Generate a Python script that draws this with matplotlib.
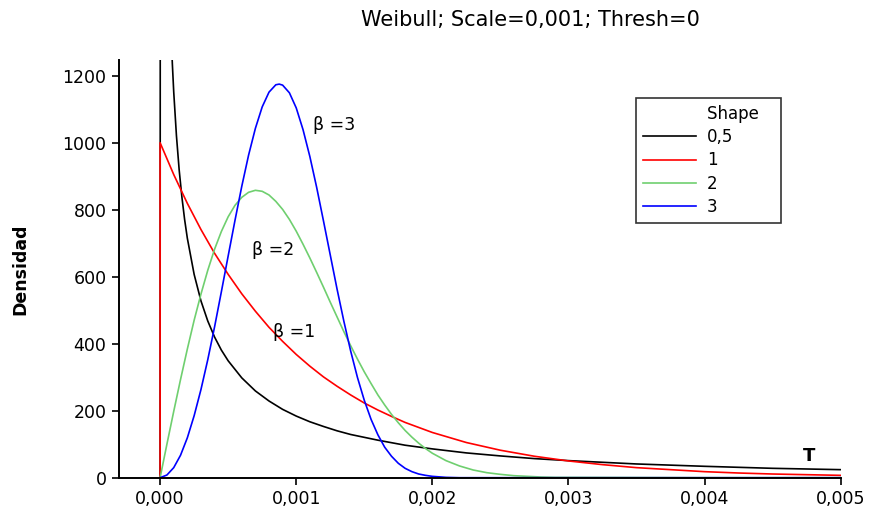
import matplotlib
matplotlib.use("Agg")
import matplotlib.pyplot as plt
from matplotlib.lines import Line2D
import numpy as np

# Weibull densities, scale 0.001, threshold 0
# times are given in thousandths (x 0.001)
shapes = ["0,5", "1", "2", "3"]
colors = ["black", "red", "#6fcf6f", "blue"]

t_05 = [0, 0.005, 0.01, 0.015, 0.02, 0.03, 0.04, 0.05, 0.06, 0.07, 0.08, 0.09,
        0.1, 0.12, 0.14, 0.16, 0.18, 0.2, 0.25, 0.3, 0.35, 0.4, 0.45, 0.5,
        0.6, 0.7, 0.8, 0.9, 1.0, 1.1, 1.2, 1.3, 1.4, 1.6, 1.8, 2.0, 2.25,
        2.5, 2.75, 3.0, 3.5, 4.0, 4.5, 5.0]
d_05 = [0, 6588, 4524, 3611, 3070, 2428, 2047, 1788, 1598, 1450, 1332, 1235,
        1152, 1021, 919, 838, 771, 715, 607, 528, 468, 420, 381, 349,
        298, 259, 229, 204, 184, 167, 153, 140, 129, 112, 97, 86, 74,
        65, 57, 51, 41, 34, 28, 24]

t_1 = [0, 0, 0.1, 0.2, 0.3, 0.4, 0.5, 0.6, 0.7, 0.8, 0.9, 1.0, 1.1, 1.2, 1.3,
       1.4, 1.5, 1.6, 1.7, 1.8, 1.9, 2.0, 2.25, 2.5, 2.75, 3.0, 3.25, 3.5,
       3.75, 4.0, 4.25, 4.5, 4.75, 5.0]
d_1 = [0, 1000, 905, 819, 741, 670, 607, 549, 497, 449, 407, 368, 333, 301, 273,
       247, 223, 202, 183, 165, 150, 135, 105, 82, 64, 50, 39, 30,
       24, 18, 14, 11, 9, 7]

t_2 = [0, 0.05, 0.1, 0.15, 0.2, 0.25, 0.3, 0.35, 0.4, 0.45, 0.5, 0.55, 0.6,
       0.65, 0.7, 0.75, 0.8, 0.85, 0.9, 0.95, 1.0, 1.05, 1.1, 1.15, 1.2, 1.25,
       1.3, 1.35, 1.4, 1.45, 1.5, 1.55, 1.6, 1.65, 1.7, 1.75, 1.8, 1.85, 1.9,
       1.95, 2.0, 2.1, 2.2, 2.3, 2.4, 2.5, 2.6, 2.7, 2.8, 2.9, 3.0, 4.0, 5.0]
d_2 = [0, 100, 198, 293, 384, 470, 548, 619, 682, 735, 779, 813, 837,
       852, 858, 855, 844, 825, 801, 771, 736, 697, 656, 613, 569, 524,
       480, 436, 394, 354, 316, 281, 247, 217, 189, 164, 141, 121, 103,
       87, 73, 51, 35, 23, 15, 10, 6, 4, 2, 1, 1, 0, 0]

t_3 = [0, 0.05, 0.1, 0.15, 0.2, 0.25, 0.3, 0.35, 0.4, 0.45, 0.5, 0.55, 0.6,
       0.65, 0.7, 0.75, 0.8, 0.85, 0.875, 0.9, 0.95, 1.0, 1.05, 1.1, 1.15,
       1.2, 1.25, 1.3, 1.35, 1.4, 1.45, 1.5, 1.55, 1.6, 1.65, 1.7, 1.75, 1.8,
       1.85, 1.9, 1.95, 2.0, 2.1, 2.2, 5.0]
d_3 = [0, 8, 30, 67, 119, 185, 263, 352, 450, 555, 662, 768, 870,
       963, 1043, 1107, 1151, 1173, 1175, 1172, 1149, 1104, 1039, 959, 867,
       767, 665, 563, 467, 378, 299, 231, 174, 128, 91, 64, 43, 28,
       18, 11, 7, 4, 1, 0, 0]

series = [(t_05, d_05), (t_1, d_1), (t_2, d_2), (t_3, d_3)]

x_ticks = [0, 0.001, 0.002, 0.003, 0.004, 0.005]
x_labels = ["0,000", "0,001", "0,002", "0,003", "0,004", "0,005"]
y_ticks = [0, 200, 400, 600, 800, 1000, 1200]

fig = plt.figure(figsize=(8.7, 5.12), dpi=100)
ax = fig.add_axes([119 / 870, 1 - 477.7 / 512, (840.7 - 119) / 870, (477.7 - 60) / 512])

for (t, d), c in zip(series, colors):
    ax.plot(np.array(t) * 0.001, d, color=c, lw=1.2)

ax.set_xlim(-0.000302, 0.005)
ax.set_ylim(0, 1247)
ax.set_xticks(x_ticks)
ax.set_xticklabels(x_labels)
ax.set_yticks(y_ticks)
ax.tick_params(labelsize=12.5, length=5, width=1.2, direction="out", pad=4)
for s in ["top", "right"]:
    ax.spines[s].set_visible(False)
for s in ["left", "bottom"]:
    ax.spines[s].set_linewidth(1.4)

ax.set_ylabel("Densidad", fontsize=12.5, fontweight="bold", labelpad=24)
fig.text(530 / 870, 1 - 20 / 512, "Weibull; Scale=0,001; Thresh=0",
         ha="center", va="center", fontsize=15)

ax.text(0.00112, 1053, "β =3", fontsize=12.5, ha="left", va="center")
ax.text(0.000676, 679, "β =2", fontsize=12.5, ha="left", va="center")
ax.text(0.000831, 435, "β =1", fontsize=12.5, ha="left", va="center")
ax.text(0.00477, 64, "T", fontsize=13, fontweight="bold", ha="center", va="center")

handles = [Line2D([], [], color="none")] + [Line2D([], [], color=c, lw=1.2) for c in colors]
leg = ax.legend(handles, ["Shape   "] + shapes, loc="upper left",
                bbox_to_anchor=(636 / 870, 1 - 98 / 512), bbox_transform=fig.transFigure,
                fontsize=12, frameon=True, fancybox=False, borderaxespad=0,
                handlelength=3.2, handletextpad=0.65, labelspacing=0.32, borderpad=0.4)
leg.get_frame().set_edgecolor("black")
leg.get_frame().set_linewidth(1.2)

fig.savefig("out.png", dpi=100)
